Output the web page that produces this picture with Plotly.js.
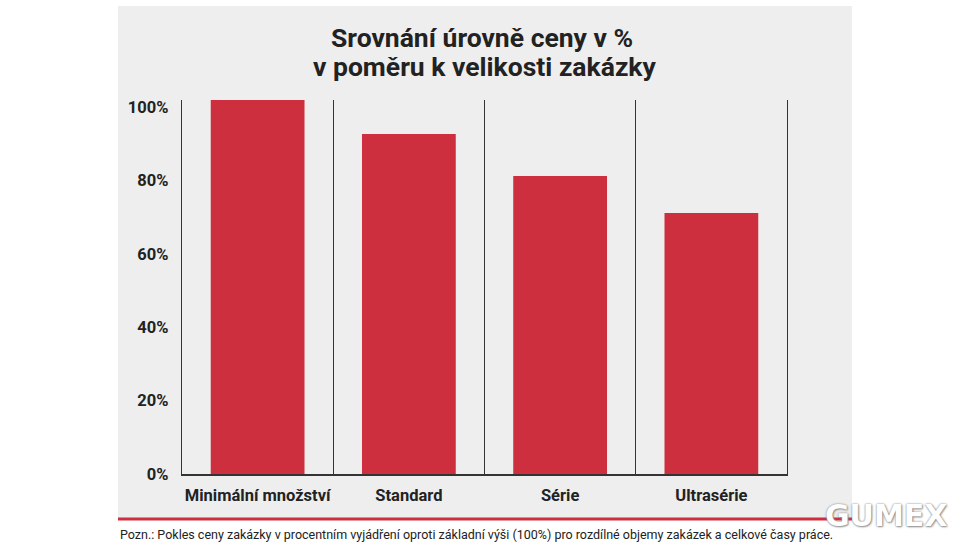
<!DOCTYPE html>
<html>
<head>
<meta charset="utf-8">
<script src="https://cdn.plot.ly/plotly-3.0.1.min.js"></script>
<style>html,body{margin:0;padding:0;background:#fff;}#chart{width:970px;height:546px;}</style>
</head>
<body>
<div id="chart"></div>
<script>
const categories = ["Minimální množství", "Standard", "Série", "Ultrasérie"];
const priceLevel = [102, 92.7, 81.3, 71.2];
const yTickValues = [0, 20, 40, 60, 80, 100];
const yTickLabels = ["0%", "20%", "40%", "60%", "80%", "100%"];
const titleLine1 = "Srovnání úrovně ceny v %";
const titleLine2 = "v poměru k velikosti zakázky";
const noteText = "Pozn.: Pokles ceny zakázky v procentním vyjádření oproti základní výši (100%) pro rozdílné objemy zakázek a celkové časy práce.";
const logoText = "GUMEX";

const W = 970, H = 546;
const L = 182, R = 787, T = 100, B = 474;
const px = x => (x - L) / (R - L);
const py = y => (B - y) / (B - T);
const titleFont = { size: 26.5, weight: 700, color: "#222222", family: "Roboto, sans-serif" };

const trace = {
  type: "bar",
  x: categories,
  y: priceLevel,
  marker: { color: "#cd2f3e", line: { width: 0 } },
  hoverinfo: "none"
};

const layout = {
  width: W, height: H,
  margin: { l: L, r: W - R, t: T, b: H - B, pad: 0 },
  paper_bgcolor: "#ffffff",
  plot_bgcolor: "rgba(0,0,0,0)",
  font: { family: "Roboto, 'DejaVu Sans', sans-serif", color: "#222222" },
  bargap: 0.38,
  showlegend: false,
  title: {
    text: titleLine1,
    x: 0.497, xref: "container", xanchor: "center",
    y: 1 - 38 / H, yref: "container", yanchor: "middle",
    font: titleFont
  },
  xaxis: {
    type: "category",
    range: [-0.5, categories.length - 0.5],
    tickson: "boundaries",
    showgrid: true, gridcolor: "#333333", gridwidth: 1.3,
    showline: true, linecolor: "#333333", linewidth: 1.6,
    ticks: "", ticklabelstandoff: 6, tickangle: 0,
    tickfont: { size: 16.5, weight: 700, color: "#222222" },
    zeroline: false, fixedrange: true
  },
  yaxis: {
    range: [0, priceLevel[0]],
    tickvals: yTickValues, ticktext: yTickLabels,
    showgrid: false, zeroline: false,
    showline: true, mirror: true, linecolor: "#333333", linewidth: 1.3,
    ticks: "", ticklabelstandoff: 9,
    tickfont: { size: 16.5, weight: 700, color: "#222222" },
    fixedrange: true
  },
  shapes: [
    { type: "rect", xref: "paper", yref: "paper", layer: "below",
      x0: px(118), x1: px(852), y0: py(520), y1: py(6),
      fillcolor: "#eeeeee", line: { width: 0 } },
    { type: "line", xref: "paper", yref: "paper",
      x0: px(118), x1: px(852), y0: py(519), y1: py(519),
      line: { color: "#cd2f3e", width: 3 } }
  ],
  annotations: [
    { xref: "paper", yref: "paper", x: px(484.5), y: py(66), xanchor: "center", yanchor: "middle",
      text: titleLine2, showarrow: false, font: titleFont },
    { xref: "paper", yref: "paper", x: px(118), y: py(534), xanchor: "left", yanchor: "middle",
      text: noteText, showarrow: false,
      font: { size: 12.5, color: "#222222", family: "Roboto, sans-serif" } },
    { xref: "paper", yref: "paper", x: px(886), y: py(515), xanchor: "center", yanchor: "middle",
      text: logoText, showarrow: false,
      font: { size: 30, weight: 700, color: "#ffffff", family: "'DejaVu Sans', sans-serif",
              shadow: "0px 0px 2px #777, 1px 1px 2px #999" } }
  ]
};

Plotly.newPlot("chart", [trace], layout, { displayModeBar: false, staticPlot: true });
</script>
</body>
</html>
